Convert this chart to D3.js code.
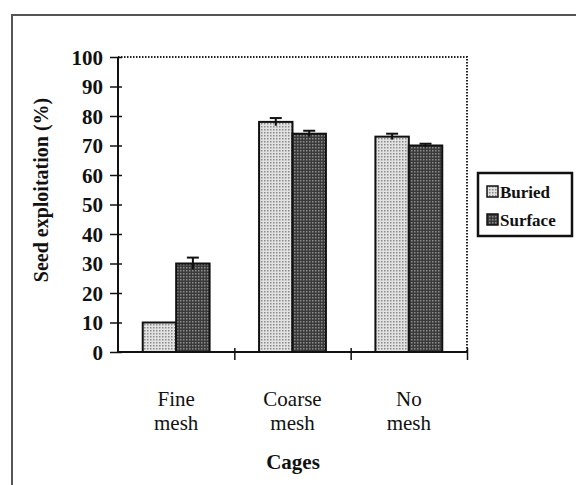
<!DOCTYPE html>
<html><head><meta charset="utf-8">
<script src="https://cdn.jsdelivr.net/npm/d3@7"></script>
<style>body{margin:0;background:#fff}svg{display:block}text{font-family:"Liberation Serif","Times New Roman",serif;fill:#111}</style>
</head><body>
<svg id="c" width="576" height="485"></svg>
<script>
const categories = [["Fine","mesh"],["Coarse","mesh"],["No","mesh"]];
const seriesNames = ["Buried","Surface"];
const buried = [10, 78, 73];
const surface = [30, 74, 70];
const buriedErr = [0, 1.3, 1.0];
const surfaceErr = [2, 1.0, 0.6];
const yTicks = [0,10,20,30,40,50,60,70,80,90,100];

const svg = d3.select("#c");
const defs = svg.append("defs");
const p1 = defs.append("pattern").attr("id","pb").attr("width",3).attr("height",3).attr("patternUnits","userSpaceOnUse");
p1.append("rect").attr("width",3).attr("height",3).attr("fill","#e2e2e2");
p1.append("rect").attr("width",1.5).attr("height",1.5).attr("fill","#8a8a8a");
const p2 = defs.append("pattern").attr("id","ps").attr("width",3).attr("height",3).attr("patternUnits","userSpaceOnUse");
p2.append("rect").attr("width",3).attr("height",3).attr("fill","#3a3a3a");
p2.append("rect").attr("width",1.5).attr("height",1.5).attr("fill","#8c8c8c");
const fills = ["url(#pb)","url(#ps)"];

// outer frame
svg.append("path").attr("d","M12,490 L12,15 L580,15").attr("fill","none").attr("stroke","#555").attr("stroke-width",2);

const L=118, R=467, T=57, B=352;
const y = d3.scaleLinear().domain([0,100]).range([B,T]);
const xg = d3.scaleBand().domain(d3.range(categories.length)).range([L,R]).paddingInner(0).paddingOuter(0);
const xs = d3.scaleBand().domain(seriesNames).range([0,xg.bandwidth()]).paddingInner(0).paddingOuter(0.74);
const xb = d3.scaleLinear().domain([0,categories.length]).range([L,R]);

// dotted top/right border
svg.append("path").attr("d",`M${L},${T} L${R},${T} L${R},${B}`).attr("fill","none").attr("stroke","#222").attr("stroke-width",2).attr("stroke-dasharray","1.5,1.5");

const data = [buried, surface];
const errs = [buriedErr, surfaceErr];
const g = svg.append("g");
seriesNames.forEach((s,si)=>{
  data[si].forEach((v,ci)=>{
    const x0 = xg(ci)+xs(s);
    g.append("rect").attr("x",x0).attr("y",y(v)).attr("width",xs.bandwidth()).attr("height",y(0)-y(v))
      .attr("fill",fills[si]).attr("stroke","#111").attr("stroke-width",2);
    const e = errs[si][ci];
    if(e>0){
      const cx = x0+xs.bandwidth()/2;
      g.append("line").attr("x1",cx).attr("x2",cx).attr("y1",y(v-e)).attr("y2",y(v+e)).attr("stroke","#111").attr("stroke-width",2);
      g.append("line").attr("x1",cx-6).attr("x2",cx+6).attr("y1",y(v+e)).attr("y2",y(v+e)).attr("stroke","#111").attr("stroke-width",2);
    }
  });
});

// y axis
const ya = svg.append("g").attr("transform",`translate(${L},0)`)
  .call(d3.axisLeft(y).tickValues(yTicks).tickSize(8).tickPadding(7).tickFormat(d3.format("d")));
ya.select(".domain").attr("stroke","#111").attr("stroke-width",2).attr("d",`M0,${T}V${B}`);
ya.selectAll(".tick line").attr("stroke","#111").attr("stroke-width",1.5).attr("x2",-8).attr("x1",4);
ya.selectAll(".tick text").attr("font-size",21).attr("font-family","Liberation Serif").attr("font-weight","bold").attr("fill","#111").attr("dy","0.34em");

// x axis (boundaries)
const xa = svg.append("g").attr("transform",`translate(0,${B})`)
  .call(d3.axisBottom(xb).tickValues([1,2,3]).tickSize(8).tickFormat(""));
xa.select(".domain").attr("stroke","#111").attr("stroke-width",2).attr("d",`M${L},0H${R}`);
xa.selectAll(".tick line").attr("stroke","#111").attr("stroke-width",1.5).attr("y1",-4).attr("y2",8);

// category labels
categories.forEach((c,ci)=>{
  const cx = xg(ci)+xg.bandwidth()/2;
  c.forEach((t,li)=>{
    svg.append("text").attr("x",cx).attr("y",406+li*24).attr("text-anchor","middle").attr("font-size",21).text(t);
  });
});
svg.append("text").attr("x",293).attr("y",469).attr("text-anchor","middle").attr("font-size",21).attr("font-weight","bold").text("Cages");
svg.append("text").attr("transform","translate(48,190) rotate(-90)").attr("text-anchor","middle").attr("font-size",20).attr("font-weight","bold").text("Seed exploitation (%)");

// legend
const lg = svg.append("g");
lg.append("rect").attr("x",478).attr("y",173).attr("width",94).attr("height",63).attr("fill","#fff").attr("stroke","#111").attr("stroke-width",2.5);
seriesNames.forEach((s,i)=>{
  const yy = 192+i*28;
  lg.append("rect").attr("x",487).attr("y",yy-6).attr("width",11).attr("height",11).attr("fill",fills[i]).attr("stroke","#111").attr("stroke-width",1.5);
  lg.append("text").attr("x",500).attr("y",yy+6).attr("font-size",17).attr("font-weight","bold").text(s);
});
</script>
</body></html>
